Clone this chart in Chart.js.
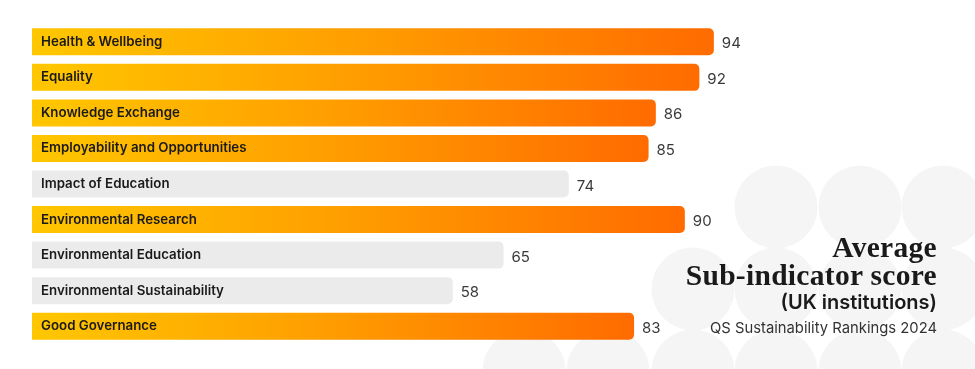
<!DOCTYPE html>
<html>
<head>
<meta charset="utf-8">
<script src="https://cdn.jsdelivr.net/npm/chart.js@4.4.0/dist/chart.umd.min.js"></script>
<style>
  html, body { margin: 0; padding: 0; background: #fff; }
  #wrap { position: relative; width: 975px; height: 369px; overflow: hidden; }
  #title { position: absolute; right: 38px; top: 233px; text-align: right; color: #1a1a1a; }
  #title .serif { font-family: "Liberation Serif", serif; font-weight: bold; font-size: 29.5px; line-height: 28px; letter-spacing: 0.3px; }
  #title .sub { font-family: Inter, sans-serif; font-weight: 600; font-size: 20px; line-height: 27px; }
  #title .src { font-family: Inter, sans-serif; font-weight: 400; font-size: 14.8px; line-height: 25px; color: #333; }
</style>
</head>
<body>
<div id="wrap">
  <canvas id="myChart" width="975" height="369"></canvas>
  <div id="title">
    <div class="serif">Average</div>
    <div class="serif">Sub-indicator score</div>
    <div class="sub">(UK institutions)</div>
    <div class="src">QS Sustainability Rankings 2024</div>
  </div>
</div>
<script>
const categories = [
  'Health & Wellbeing',
  'Equality',
  'Knowledge Exchange',
  'Employability and Opportunities',
  'Impact of Education',
  'Environmental Research',
  'Environmental Education',
  'Environmental Sustainability',
  'Good Governance'
];
const scores = [94, 92, 86, 85, 74, 90, 65, 58, 83];
const highlighted = [true, true, true, true, false, true, false, false, true];

// decorative circles behind the title (bottom right)
const bgCircles = [
  [776, 207], [860, 207], [943, 207], [1027, 207],
  [693, 289], [776, 289], [860, 289], [943, 289], [1027, 289],
  [524, 371], [608, 371], [693, 371], [776, 371], [860, 371], [943, 371], [1027, 371]
];

const circlesPlugin = {
  id: 'circles',
  beforeDraw(chart) {
    const ctx = chart.ctx;
    ctx.save();
    ctx.fillStyle = '#f5f5f5';
    bgCircles.forEach(c => {
      ctx.beginPath();
      ctx.arc(c[0], c[1], 41.5, 0, Math.PI * 2);
      ctx.fill();
    });
    ctx.restore();
  }
};

const labelsPlugin = {
  id: 'barLabels',
  afterDatasetsDraw(chart) {
    const ctx = chart.ctx;
    const meta = chart.getDatasetMeta(0);
    ctx.save();
    ctx.textBaseline = 'middle';
    meta.data.forEach((bar, i) => {
      ctx.font = '600 13.3px Inter, sans-serif';
      ctx.fillStyle = '#1a1a1a';
      ctx.textAlign = 'left';
      ctx.fillText(categories[i], bar.base + 9, bar.y);
      ctx.font = '400 15px Inter, sans-serif';
      ctx.fillStyle = '#3a3a3a';
      ctx.fillText(scores[i], bar.x + 8, bar.y + 2);
    });
    ctx.restore();
  }
};

function barColor(context) {
  const i = context.dataIndex;
  if (!highlighted[i]) return '#ebebeb';
  const chart = context.chart;
  if (!chart.chartArea) return '#ffa000';
  const x = chart.scales.x;
  const x0 = x.getPixelForValue(0);
  const x1 = x.getPixelForValue(scores[i]);
  const g = chart.ctx.createLinearGradient(x0, 0, x1, 0);
  g.addColorStop(0, '#ffc700');
  g.addColorStop(0.5, '#ff9c00');
  g.addColorStop(1, '#ff6b00');
  return g;
}

new Chart(document.getElementById('myChart'), {
  type: 'bar',
  data: {
    labels: categories,
    datasets: [{
      data: scores,
      backgroundColor: barColor,
      borderRadius: 5,
      borderSkipped: 'start',
      barPercentage: 0.76,
      categoryPercentage: 1
    }]
  },
  options: {
    indexAxis: 'y',
    responsive: false,
    animation: false,
    layout: { padding: { left: 32, right: 0, top: 24, bottom: 25 } },
    plugins: {
      legend: { display: false },
      tooltip: { enabled: false }
    },
    scales: {
      x: { min: 0, max: 130, display: false },
      y: { display: false }
    }
  },
  plugins: [circlesPlugin, labelsPlugin]
});
</script>
</body>
</html>
